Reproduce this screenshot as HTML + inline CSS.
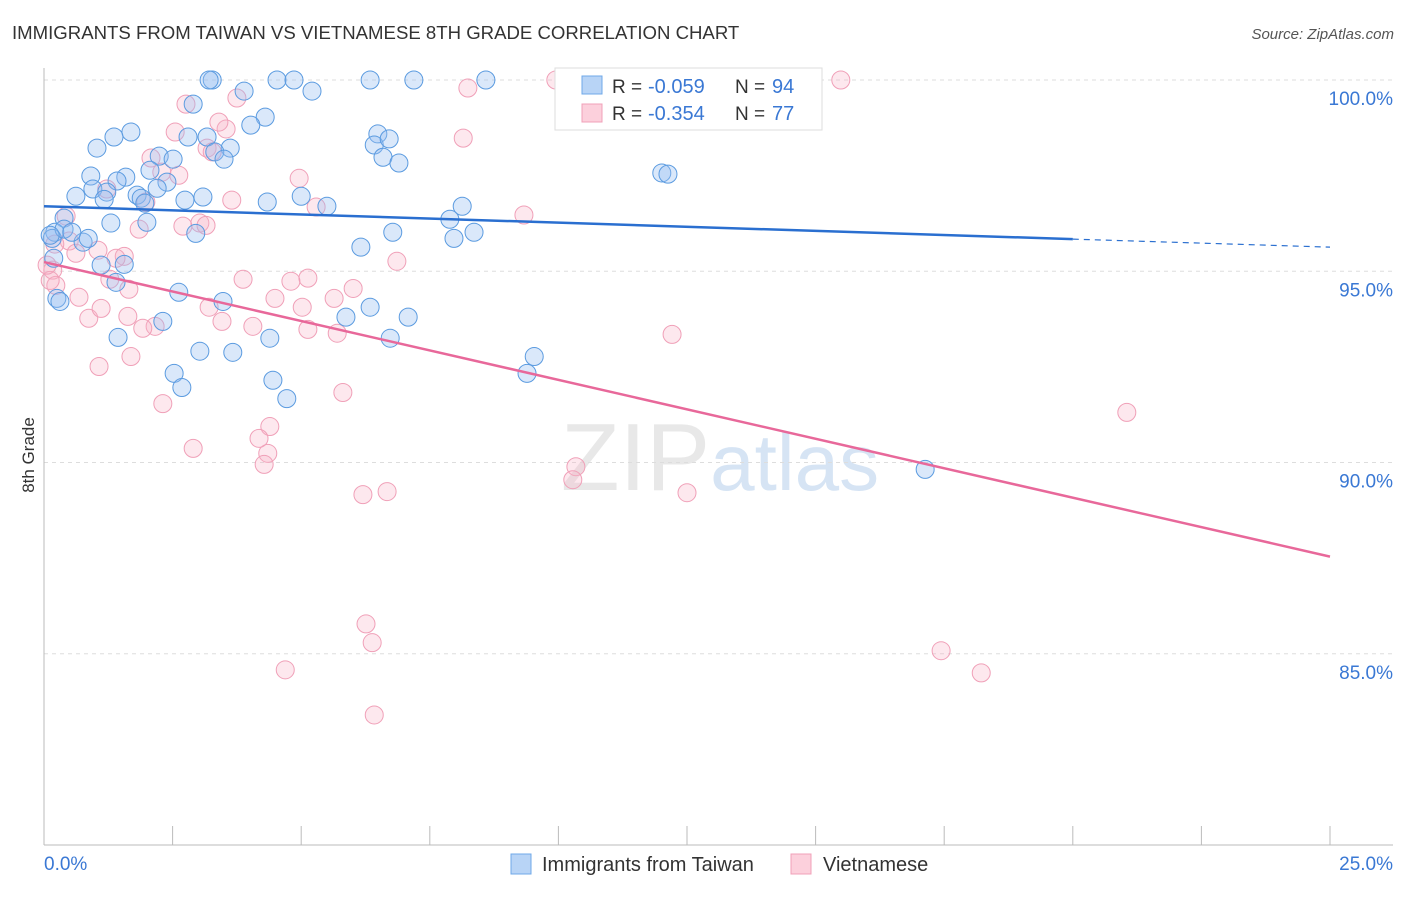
<!DOCTYPE html>
<html><head><meta charset="utf-8"><style>
body{margin:0;background:#fff;font-family:"Liberation Sans",sans-serif;}
svg text{font-family:"Liberation Sans",sans-serif;}
</style></head><body>
<svg id="chart" width="1406" height="892" viewBox="0 0 1406 892" xmlns="http://www.w3.org/2000/svg">
<text x="12" y="39" font-size="18.6" fill="#333">IMMIGRANTS FROM TAIWAN VS VIETNAMESE 8TH GRADE CORRELATION CHART</text>
<text x="1394" y="39" font-size="15" fill="#555" font-style="italic" text-anchor="end">Source: ZipAtlas.com</text>
<text x="720" y="490" font-size="96" text-anchor="middle" fill="#e8e8e8" font-family="Liberation Serif">ZIP<tspan fill="#d6e4f4" font-family="Liberation Sans" font-size="80">atlas</tspan></text>
<g id="grid"></g>
<g id="axes"></g>
<g id="pts"></g>
<g id="trend"></g>
<text transform="translate(34,455) rotate(-90)" font-size="17" fill="#333" text-anchor="middle">8th Grade</text>
<g>
<rect x="555" y="68" width="267" height="62" fill="#fff" stroke="#ddd"/>
<rect x="582" y="76" width="20" height="18" fill="#b8d4f6" stroke="#6fa8e8"/>
<rect x="582" y="104" width="20" height="18" fill="#fcd0dc" stroke="#f0a0b8"/>
<text x="612" y="93" font-size="19" fill="#333">R =</text>
<text x="648" y="93" font-size="20" fill="#3a78d4">-0.059</text>
<text x="735" y="93" font-size="19" fill="#333">N =</text>
<text x="772" y="93" font-size="20" fill="#3a78d4">94</text>
<text x="612" y="120" font-size="19" fill="#333">R =</text>
<text x="648" y="120" font-size="20" fill="#3a78d4">-0.354</text>
<text x="735" y="120" font-size="19" fill="#333">N =</text>
<text x="772" y="120" font-size="20" fill="#3a78d4">77</text>
</g>
<g>
<rect x="511" y="854" width="20" height="20" fill="#b8d4f6" stroke="#6fa8e8"/>
<text x="542" y="871" font-size="20" fill="#333">Immigrants from Taiwan</text>
<rect x="791" y="854" width="20" height="20" fill="#fcd0dc" stroke="#f0a0b8"/>
<text x="823" y="871" font-size="20" fill="#333">Vietnamese</text>
</g>
</svg>
<script>
const yTicks=[100,95,90,85];
const yTickLabels=["100.0%","95.0%","90.0%","85.0%"];
const xLabels=["0.0%","25.0%"];
const blueX=[3.27,3.21,4.53,4.86,6.34,7.19,8.59,11.80,3.89,5.21,2.90,4.30,4.02,1.69,1.36,2.80,3.17,6.49,6.42,6.71,1.03,3.62,3.32,3.50,6.59,6.90,2.24,2.51,2.06,1.59,0.91,1.42,2.39,2.20,0.95,1.22,1.81,1.89,0.62,1.17,3.09,2.74,4.34,5.00,5.50,1.96,12.01,12.13,8.13,7.89,0.39,1.30,2.00,2.95,6.78,8.36,7.97,6.16,0.21,0.16,0.76,1.11,1.56,1.40,2.62,3.48,0.25,0.31,6.34,5.87,7.08,2.31,1.44,4.39,6.73,3.03,3.67,9.53,9.39,2.53,2.68,4.45,4.72,17.13,0.39,0.86,0.19,0.54,0.12];
const blueY=[100,100,100,100,100,100,100,100,99.71,99.71,99.37,99.03,98.82,98.64,98.51,98.51,98.51,98.59,98.30,98.46,98.22,98.22,98.12,97.93,97.98,97.83,98.01,97.93,97.64,97.46,97.49,97.36,97.33,97.17,97.15,97.07,96.99,96.91,96.96,96.88,96.94,96.86,96.81,96.96,96.70,96.78,97.57,97.54,96.70,96.36,96.39,96.26,96.28,95.99,96.02,96.02,95.86,95.63,96.02,95.86,95.76,95.16,95.18,94.71,94.45,94.21,94.29,94.21,94.06,93.80,93.80,93.69,93.27,93.25,93.25,92.91,92.88,92.77,92.33,92.33,91.96,92.15,91.67,89.82,96.10,95.86,95.34,96.02,95.94];
const pinkX=[9.95,15.49,8.24,2.76,3.75,3.54,3.40,2.55,8.15,3.17,3.27,2.08,2.62,2.29,1.22,4.96,3.65,5.29,1.98,9.33,0.43,3.03,3.15,2.70,1.85,0.49,0.62,1.05,1.56,1.40,6.86,0.21,0.17,0.23,3.87,5.13,4.80,6.01,0.68,1.65,1.28,4.49,5.64,3.21,5.02,1.63,0.87,1.11,3.46,2.16,1.92,4.06,5.13,5.70,12.21,1.69,1.07,5.81,2.31,21.05,4.39,4.18,4.35,2.90,4.28,10.34,10.28,12.50,6.20,6.67,6.26,6.38,17.44,4.69,18.22,6.42,0.12,0.06];
const pinkY=[100,100,99.79,99.37,99.53,98.72,98.90,98.64,98.48,98.22,98.12,97.96,97.51,97.59,97.15,97.43,96.86,96.68,96.81,96.47,96.44,96.26,96.20,96.18,96.10,95.79,95.47,95.55,95.39,95.34,95.26,95.71,95.03,94.63,94.79,94.82,94.74,94.55,94.32,94.53,94.79,94.29,94.29,94.06,94.06,93.82,93.77,94.03,93.69,93.56,93.51,93.56,93.48,93.38,93.35,92.77,92.51,91.83,91.54,91.31,90.94,90.63,90.24,90.37,89.95,89.89,89.55,89.21,89.16,89.24,85.78,85.29,85.08,84.58,84.50,83.40,94.76,95.16];
const blueTrend=[96.70,95.84,95.63];
const pinkTrend=[95.24,87.54];
const NS="http://www.w3.org/2000/svg";
const X=v=>44+v/25*1286;
const Y=v=>80+(100-v)*38.25;
function mk(tag,attrs,parent){const e=document.createElementNS(NS,tag);for(const k in attrs)e.setAttribute(k,attrs[k]);document.getElementById(parent).appendChild(e);return e;}
yTicks.forEach((t,i)=>{
 const g=mk('line',{x1:44,x2:1393,y1:Y(t),y2:Y(t),stroke:'#ddd','stroke-dasharray':'4,4'},'grid');
 
 
 const l=mk('text',{x:1393,y:Y(t)+25,'font-size':19,fill:'#3a78d4','text-anchor':'end'},'grid');
 l.textContent=yTickLabels[i];
 
 
});
const ax=mk('line',{x1:44,x2:44,y1:68,y2:845,stroke:'#bbb'},'axes');


const bx=mk('line',{x1:44,x2:1393,y1:845,y2:845,stroke:'#bbb'},'axes');


for(let i=0;i<=10;i++){
 const t=mk('line',{x1:X(i*2.5),x2:X(i*2.5),y1:826,y2:845,stroke:'#bbb'},'axes');
 
 
}
[[0,'start',44],[25,'end',1393]].forEach((d,i)=>{
 const l=mk('text',{x:d[2],y:870,'font-size':19,fill:'#3a78d4','text-anchor':d[1]},'axes');
 l.textContent=xLabels[i];
 
 
});
pinkX.forEach((x,i)=>{
 const c=mk('circle',{cx:X(x),cy:Y(pinkY[i]),r:9,fill:'rgba(248,180,200,0.3)',stroke:'#f0a0b8','stroke-width':1},'pts');
 
 
});
blueX.forEach((x,i)=>{
 const c=mk('circle',{cx:X(x),cy:Y(blueY[i]),r:9,fill:'rgba(150,190,240,0.35)',stroke:'#5b9be0','stroke-width':1},'pts');
 
 
});
const b1=mk('line',{x1:X(0),y1:Y(blueTrend[0]),x2:X(20),y2:Y(blueTrend[1]),stroke:'#2a6fd0','stroke-width':2.5},'trend');


const b2=mk('line',{x1:X(20),y1:Y(blueTrend[1]),x2:X(25),y2:Y(blueTrend[2]),stroke:'#2a6fd0','stroke-width':1.2,'stroke-dasharray':'6,5'},'trend');


const p1=mk('line',{x1:X(0),y1:Y(pinkTrend[0]),x2:X(25),y2:Y(pinkTrend[1]),stroke:'#e8689a','stroke-width':2.5},'trend');


</script>
</body></html>
